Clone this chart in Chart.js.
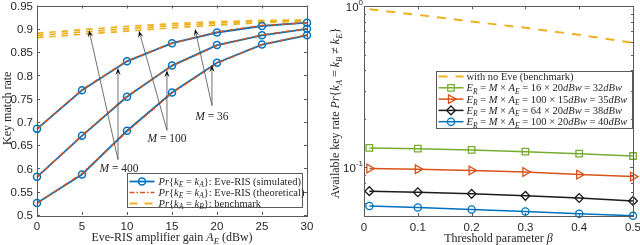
<!DOCTYPE html>
<html><head><meta charset="utf-8">
<script src="https://cdn.jsdelivr.net/npm/chart.js@4.4.1/dist/chart.umd.min.js"></script>
<style>
html,body{margin:0;padding:0;background:#fff;overflow:hidden;}
#wrap{position:relative;width:640px;height:245px;background:#fff;}
canvas{position:absolute;top:0;}
#c1{left:0;} #c2{left:320px;}
</style></head><body>
<div id="wrap"><canvas id="c1" width="320" height="245"></canvas><canvas id="c2" width="320" height="245"></canvas></div>
<script>
// ---------------- data: left panel ----------------
const gainAE = [0, 5, 10, 15, 20, 25, 30];
const simM400 = [0.685, 0.768, 0.830, 0.869, 0.892, 0.906, 0.913];
const simM100 = [0.582, 0.670, 0.754, 0.821, 0.865, 0.886, 0.900];
const simM36  = [0.526, 0.587, 0.681, 0.763, 0.827, 0.866, 0.886];
const theoM400 = [0.684, 0.769, 0.831, 0.869, 0.893, 0.907, 0.913];
const theoM100 = [0.581, 0.671, 0.755, 0.820, 0.864, 0.887, 0.900];
const theoM36  = [0.525, 0.589, 0.679, 0.762, 0.826, 0.866, 0.887];
const benchM400 = [0.8905, 0.898, 0.905, 0.911, 0.915, 0.918, 0.919];
const benchM100 = [0.8857, 0.893, 0.900, 0.907, 0.912, 0.916, 0.918];
const benchM36  = [0.8810, 0.888, 0.895, 0.902, 0.908, 0.913, 0.917];
const leftXTicks = [0, 5, 10, 15, 20, 25, 30];
const leftYTicks = [0.5, 0.55, 0.6, 0.65, 0.7, 0.75, 0.8, 0.85, 0.9, 0.95];
const mLabels = ['400', '100', '36'];

// ---------------- data: right panel ----------------
const betaVals = [0.01, 0.1, 0.2, 0.3, 0.4, 0.5];
const noEve = [0.958, 0.885, 0.805, 0.735, 0.665, 0.594];
const er32 = [0.1322, 0.1309, 0.1285, 0.1253, 0.1218, 0.1178];
const er35 = [0.0986, 0.0976, 0.0957, 0.0938, 0.0903, 0.0878];
const er38 = [0.0713, 0.0702, 0.0686, 0.0667, 0.0647, 0.0620];
const er40 = [0.0577, 0.0565, 0.0549, 0.0534, 0.0516, 0.0501];
const rightXTicks = [0, 0.1, 0.2, 0.3, 0.4, 0.5];
const rightYTicks = [0.05, 0.06, 0.07, 0.08, 0.09, 0.1, 0.2, 0.3, 0.4, 0.5, 0.6, 0.7, 0.8, 0.9, 1];
const rightYLabels = [[0.1, '-1'], [1, '0']];

// ---------------- text ----------------
const leftLegend = [
  [['Pr','i'],['{','r'],['k','i'],['E','s'],[' = ','r'],['k','i'],['A','s'],['}','r'],[': Eve-RIS (simulated)','r']],
  [['Pr','i'],['{','r'],['k','i'],['E','s'],[' = ','r'],['k','i'],['A','s'],['}','r'],[': Eve-RIS (theoretical)','r']],
  [['Pr','i'],['{','r'],['k','i'],['A','s'],[' = ','r'],['k','i'],['B','s'],['}','r'],[': benchmark','r']]
];
function erLabel(m, a, e){
  return [['E','i'],['R','s'],[' = ','r'],['M','i'],[' × ','r'],['A','i'],['E','s'],[' = '+m+' × '+a,'r'],['dBw','i'],[' = '+e,'r'],['dBw','i']];
}
const rightLegend = [
  [['with no Eve (benchmark)','r']],
  erLabel('16','20','32'), erLabel('100','15','35'), erLabel('64','20','38'), erLabel('100','20','40')
];
const leftXTitle = [['Eve-RIS amplifier gain ','r'],['A','i'],['E','s'],[' (dBw)','r']];
const leftYTitle = [['Key match rate','r']];
const rightXTitle = [['Threshold parameter ','r'],['β','i']];
const rightYTitle = [['Available key rate ','r'],['Pr','i'],['{','r'],['k','i'],['A','s'],[' = ','r'],['k','i'],['B','s'],[' ≠ ','r'],['k','i'],['E','s'],['}','r']];

// annotation anchors in data units
const annoLabel = [[9.11, 0.602], [14.44, 0.666], [19.44, 0.713]];
const annoTail  = [[9.0, 0.619], [14.44, 0.682], [19.44, 0.735]];
const annoTipA  = [[9.0, 0.8155], [14.44, 0.811], [19.44, 0.822]];
const annoTipB  = [[5.78, 0.897], [11.33, 0.896], [17.56, 0.8995]];

const SERIF = '"Liberation Serif", "DejaVu Serif", serif';
const SANS = '"Liberation Sans", Arial, sans-serif';
const TXT = '#262626';
const FRAME = '#5a5a5a';
const BLUE = '#0072BD', RED = '#D95319', YEL = '#EDB120', GRN = '#77AC30', BLK = '#1a1a1a';

function segFont(t, size){
  if (t === 'i') return 'italic ' + size + 'px ' + SERIF;
  if (t === 's') return 'italic ' + (size * 0.72).toFixed(2) + 'px ' + SERIF;
  return size + 'px ' + SERIF;
}
function richWidth(ctx, segs, size){
  let w = 0;
  for (const [txt, t] of segs){ ctx.font = segFont(t, size); w += ctx.measureText(txt).width; }
  return w;
}
function drawRich(ctx, segs, x, y, size, align){
  const w = richWidth(ctx, segs, size);
  let cx = align === 'center' ? x - w / 2 : (align === 'right' ? x - w : x);
  ctx.textAlign = 'left'; ctx.textBaseline = 'alphabetic'; ctx.fillStyle = TXT;
  for (const [txt, t] of segs){
    ctx.font = segFont(t, size);
    ctx.fillText(txt, cx, t === 's' ? y + size * 0.22 : y);
    cx += ctx.measureText(txt).width;
  }
}
function drawMarker(ctx, style, x, y, r, color, rot, lw){
  ctx.save();
  ctx.strokeStyle = color; ctx.fillStyle = 'rgba(0,0,0,0)'; ctx.lineWidth = lw;
  Chart.helpers.drawPoint(ctx, {pointStyle: style, radius: r, rotation: rot || 0, borderWidth: lw}, x, y);
  ctx.restore();
}
function drawFrame(chart, xT, yT, majorFn){
  const ctx = chart.ctx, ca = chart.chartArea, xs = chart.scales.x, ys = chart.scales.y;
  ctx.save();
  ctx.strokeStyle = FRAME; ctx.lineWidth = 1;
  ctx.beginPath();
  for (const v of xT){
    const p = Math.round(xs.getPixelForValue(v)) + 0.5;
    ctx.moveTo(p, ca.bottom); ctx.lineTo(p, ca.bottom - 3);
    ctx.moveTo(p, ca.top); ctx.lineTo(p, ca.top + 3);
  }
  for (const v of yT){
    const p = Math.round(ys.getPixelForValue(v)) + 0.5;
    const L = majorFn(v) ? 3 : 2;
    ctx.moveTo(ca.left, p); ctx.lineTo(ca.left + L, p);
    ctx.moveTo(ca.right, p); ctx.lineTo(ca.right - L, p);
  }
  ctx.stroke();
  ctx.strokeRect(Math.round(ca.left) + 0.5, Math.round(ca.top) + 0.5, Math.round(ca.right - ca.left), Math.round(ca.bottom - ca.top));
  ctx.restore();
}
function xy(xv, yv){ return {x: xv, y: yv}; }
function series(xArr, yArr){ return xArr.map((x, i) => xy(x, yArr[i])); }

// ---------------- left chart ----------------
const leftPlugin = {
  id: 'leftDeco',
  afterDatasetsDraw(chart){
    const ctx = chart.ctx, xs = chart.scales.x, ys = chart.scales.y;
    ctx.save();
    for (let i = 0; i < mLabels.length; i++){
      const tx = xs.getPixelForValue(annoTail[i][0]), ty = ys.getPixelForValue(annoTail[i][1]);
      for (const tip of [annoTipA[i], annoTipB[i]]){
        const px = xs.getPixelForValue(tip[0]), py = ys.getPixelForValue(tip[1]);
        const ang = Math.atan2(py - ty, px - tx);
        const hl = 7, hw = 2.6;
        const bx = px - hl * Math.cos(ang), by = py - hl * Math.sin(ang);
        ctx.strokeStyle = '#4d4d4d'; ctx.lineWidth = 0.8;
        ctx.beginPath(); ctx.moveTo(tx, ty); ctx.lineTo(bx + 2 * Math.cos(ang), by + 2 * Math.sin(ang)); ctx.stroke();
        const nx = -Math.sin(ang), ny = Math.cos(ang);
        ctx.fillStyle = '#000';
        ctx.beginPath();
        ctx.moveTo(px, py);
        ctx.lineTo(bx + nx * hw, by + ny * hw);
        ctx.lineTo(px - hl * 0.6 * Math.cos(ang), py - hl * 0.6 * Math.sin(ang));
        ctx.lineTo(bx - nx * hw, by - ny * hw);
        ctx.closePath(); ctx.fill();
      }
      const lx = xs.getPixelForValue(annoLabel[i][0]), ly = ys.getPixelForValue(annoLabel[i][1]);
      drawRich(ctx, [['M','i'],[' = ' + mLabels[i],'r']], lx, ly + 4, 11.5, 'center');
    }
    ctx.restore();
  },
  afterDraw(chart){
    const ctx = chart.ctx, ca = chart.chartArea, ys = chart.scales.y;
    // legend
    const bl = Math.round(ca.right - 180) + 0.5, br = Math.round(ca.right - 5) + 0.5;
    const bt = Math.round(ca.bottom - 42) + 0.5, bb = Math.round(ca.bottom - 8) + 0.5;
    ctx.save();
    ctx.fillStyle = '#fff'; ctx.fillRect(bl, bt, br - bl, bb - bt);
    ctx.strokeStyle = FRAME; ctx.lineWidth = 1; ctx.strokeRect(bl, bt, br - bl, bb - bt);
    const styles = [
      {c: BLUE, dash: [], w: 1.8, marker: true},
      {c: RED, dash: [5, 2, 1.5, 2], w: 1.5},
      {c: YEL, dash: [8, 7], w: 2}
    ];
    for (let i = 0; i < 3; i++){
      const ry = bt + 8 + i * 11;
      const s = styles[i];
      ctx.strokeStyle = s.c; ctx.lineWidth = s.w; ctx.setLineDash(s.dash);
      ctx.beginPath(); ctx.moveTo(bl + 2, ry); ctx.lineTo(bl + 27, ry); ctx.stroke();
      ctx.setLineDash([]);
      if (s.marker) drawMarker(ctx, 'circle', bl + 14.5, ry, 3.5, BLUE, 0, 1.5);
      drawRich(ctx, leftLegend[i], bl + 31, ry + 3.5, 10.5, 'left');
    }
    ctx.restore();
    drawFrame(chart, leftXTicks, leftYTicks, () => true);
    // y tick labels
    ctx.save();
    ctx.fillStyle = TXT; ctx.font = '11.5px ' + SANS; ctx.textAlign = 'right'; ctx.textBaseline = 'middle';
    for (const v of leftYTicks){
      const p = ys.getPixelForValue(v);
      ctx.fillText(parseFloat(v.toFixed(2)).toString(), ca.left - 4, Math.max(p + 1, 6));
    }
    ctx.restore();
    // titles
    ctx.save();
    drawRich(ctx, leftXTitle, (ca.left + ca.right) / 2, 241, 12, 'center');
    ctx.translate(7, (ca.top + ca.bottom) / 2 - 2);
    ctx.rotate(-Math.PI / 2);
    drawRich(ctx, leftYTitle, 0, 4, 12, 'center');
    ctx.restore();
  }
};

const transparent = 'rgba(0,0,0,0)';
function theo(d){ return {data: series(gainAE, d), borderColor: RED, borderWidth: 1.5, borderDash: [5, 2, 1.5, 2], pointRadius: 0, fill: false, clip: false}; }
function sim(d){ return {data: series(gainAE, d), borderColor: BLUE, borderWidth: 1.8, pointRadius: 3.5, pointBorderWidth: 1.5, pointBorderColor: BLUE, pointBackgroundColor: transparent, fill: false, clip: false}; }
function bench(d){ return {data: series(gainAE, d), borderColor: YEL, borderWidth: 1.7, borderDash: [6.5, 5.8], pointRadius: 0, fill: false, clip: false}; }

new Chart(document.getElementById('c1'), {
  type: 'line',
  data: { datasets: [theo(theoM400), theo(theoM100), theo(theoM36), sim(simM400), sim(simM100), sim(simM36), bench(benchM400), bench(benchM100), bench(benchM36)] },
  options: {
    responsive: false, animation: false, devicePixelRatio: 1,
    layout: {padding: {left: 0, right: 13, top: 3, bottom: 0}},
    plugins: {legend: {display: false}, tooltip: {enabled: false}},
    elements: {line: {tension: 0}},
    scales: {
      x: {type: 'linear', min: 0, max: 30,
        grid: {display: false, drawTicks: false}, border: {display: false},
        ticks: {font: {family: SANS, size: 11.5}, color: TXT, padding: 5, autoSkip: false, maxRotation: 0, callback: v => String(v)},
        afterBuildTicks: s => { s.ticks = leftXTicks.map(v => ({value: v})); },
        afterFit: s => { s.height = 30; s.paddingLeft = 0; s.paddingRight = 0; }},
      y: {type: 'linear', min: 0.5, max: 0.95,
        grid: {display: false, drawTicks: false}, border: {display: false},
        ticks: {display: false},
        afterBuildTicks: s => { s.ticks = leftYTicks.map(v => ({value: v})); },
        afterFit: s => { s.width = 37; s.paddingTop = 0; s.paddingBottom = 0; }}
    }
  },
  plugins: [leftPlugin]
});

// ---------------- right chart ----------------
const rightStyles = [
  {c: YEL, dash: [9, 8], w: 2, marker: null},
  {c: GRN, dash: [], w: 1.5, marker: 'rect', r: 4.6, rot: 0},
  {c: RED, dash: [], w: 1.5, marker: 'triangle', r: 5, rot: 90},
  {c: BLK, dash: [], w: 1.5, marker: 'rectRot', r: 4.4, rot: 0},
  {c: BLUE, dash: [], w: 1.5, marker: 'circle', r: 3.6, rot: 0}
];
const rightPlugin = {
  id: 'rightDeco',
  afterDraw(chart){
    const ctx = chart.ctx, ca = chart.chartArea, ys = chart.scales.y;
    // legend
    const bl = 116.5, br = Math.round(ca.right) - 0.5;
    const bt = 71.5, bb = 128.5;
    ctx.save();
    ctx.fillStyle = '#fff'; ctx.fillRect(bl, bt, br - bl, bb - bt);
    ctx.strokeStyle = FRAME; ctx.lineWidth = 1; ctx.strokeRect(bl, bt, br - bl, bb - bt);
    for (let i = 0; i < rightStyles.length; i++){
      const s = rightStyles[i];
      const ry = bt + 5 + i * 11.3;
      ctx.strokeStyle = s.c; ctx.lineWidth = s.w; ctx.setLineDash(s.dash);
      ctx.beginPath(); ctx.moveTo(bl + 2, ry); ctx.lineTo(bl + 27, ry); ctx.stroke();
      ctx.setLineDash([]);
      if (s.marker) drawMarker(ctx, s.marker, bl + 14.5, ry, s.r, s.c, s.rot, 1.3);
      drawRich(ctx, rightLegend[i], bl + 30, ry + 3.5, 10.5, 'left');
    }
    ctx.restore();
    drawFrame(chart, rightXTicks, rightYTicks, v => Math.abs(Math.log10(v) - Math.round(Math.log10(v))) < 1e-9);
    // y tick labels 10^k
    ctx.save();
    ctx.fillStyle = TXT; ctx.textBaseline = 'middle';
    for (const [v, ex] of rightYLabels){
      const p = ys.getPixelForValue(v);
      ctx.font = '8px ' + SANS; ctx.textAlign = 'right';
      const ew = ctx.measureText(ex).width;
      ctx.fillText(ex, ca.left - 1, p - 4);
      ctx.font = '11.5px ' + SANS;
      ctx.fillText('10', ca.left - 1 - ew, p + 1.5);
    }
    ctx.restore();
    // titles
    ctx.save();
    drawRich(ctx, rightXTitle, (ca.left + ca.right) / 2, 242, 12, 'center');
    ctx.translate(15, (ca.top + ca.bottom) / 2 + 2);
    ctx.rotate(-Math.PI / 2);
    drawRich(ctx, rightYTitle, 0, 4, 12, 'center');
    ctx.restore();
  }
};
function rser(d, s){
  return {data: series(betaVals, d), borderColor: s.c, borderWidth: s.w, borderDash: s.dash,
    pointRadius: s.marker ? s.r : 0, pointStyle: s.marker || 'circle', pointRotation: s.rot,
    pointBorderColor: s.c, pointBorderWidth: 1.3, pointBackgroundColor: transparent, fill: false, clip: false};
}
new Chart(document.getElementById('c2'), {
  type: 'line',
  data: { datasets: [rser(er40, rightStyles[4]), rser(er38, rightStyles[3]), rser(er35, rightStyles[2]), rser(er32, rightStyles[1]), rser(noEve, rightStyles[0])] },
  options: {
    responsive: false, animation: false, devicePixelRatio: 1,
    layout: {padding: {left: 0, right: 7, top: 6, bottom: 0}},
    plugins: {legend: {display: false}, tooltip: {enabled: false}},
    elements: {line: {tension: 0}},
    scales: {
      x: {type: 'linear', min: 0, max: 0.5,
        grid: {display: false, drawTicks: false}, border: {display: false},
        ticks: {font: {family: SANS, size: 11.5}, color: TXT, padding: 5, autoSkip: false, maxRotation: 0, callback: v => parseFloat(v.toFixed(2)).toString()},
        afterBuildTicks: s => { s.ticks = rightXTicks.map(v => ({value: v})); },
        afterFit: s => { s.height = 29; s.paddingLeft = 0; s.paddingRight = 0; }},
      y: {type: 'logarithmic', min: 0.05, max: 1,
        grid: {display: false, drawTicks: false}, border: {display: false},
        ticks: {display: false},
        afterBuildTicks: s => { s.ticks = rightYTicks.map(v => ({value: v})); },
        afterFit: s => { s.width = 44; s.paddingTop = 0; s.paddingBottom = 0; }}
    }
  },
  plugins: [rightPlugin]
});
</script>
</body></html>
